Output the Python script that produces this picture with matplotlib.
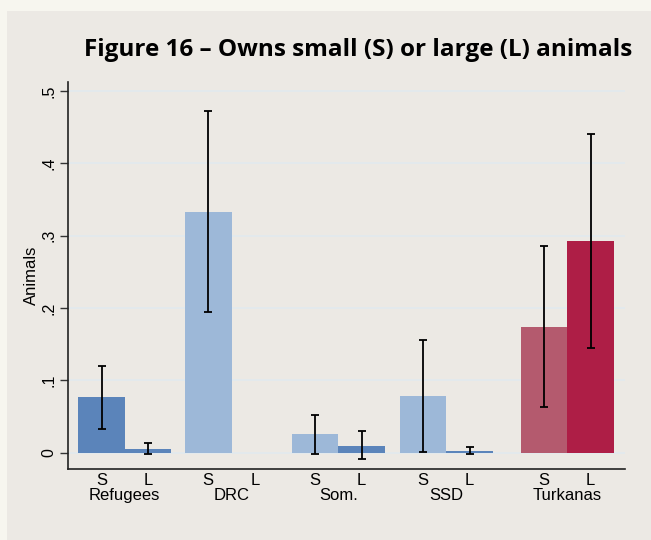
import numpy as np
import matplotlib
matplotlib.use("Agg")
import matplotlib.pyplot as plt
from matplotlib.patches import Rectangle

# Datos
grupos = ['Refugees', 'DRC', 'Som.', 'SSD', 'Turkanas']
etiquetas = ['S', 'L']
media_s = [0.077, 0.333, 0.026, 0.079, 0.174]
media_l = [0.005, 0.0, 0.009, 0.0023, 0.293]
ic_s_bajo = [0.033, 0.194, -0.002, 0.001, 0.063]
ic_s_alto = [0.120, 0.473, 0.052, 0.156, 0.286]
ic_l_bajo = [-0.002, np.nan, -0.009, -0.002, 0.145]
ic_l_alto = [0.0134, np.nan, 0.030, 0.008, 0.441]

# Colores por barra
azul_osc = '#5B84BA'
azul_cla = '#9DB8D8'
colores_s = [azul_osc, azul_cla, azul_cla, azul_cla, '#B45A6E']
colores_l = [azul_osc, azul_cla, azul_osc, azul_osc, '#AE1E46']

fondo = '#ECE9E4'
fig = plt.figure(figsize=(6.51, 5.4), dpi=100)
fig.patch.set_facecolor('#F7F6EF')
fig.patches.append(Rectangle((7 / 651, 0), 1, 1 - 11 / 540, transform=fig.transFigure,
                             facecolor=fondo, edgecolor='none', zorder=-5))

ax = fig.add_axes([0.104, 0.1315, 0.856, 0.7172])
ax.set_zorder(2)
ax.set_facecolor(fondo)

# posiciones de los grupos (inicio de la barra S)
inicio = np.array([0.228, 2.523, 4.824, 7.146, 9.748])
pos_s = inicio + 0.5
pos_l = inicio + 1.5

ax.bar(pos_s, media_s, width=1.0, color=colores_s, zorder=2)
ax.bar(pos_l, media_l, width=1.0, color=colores_l, zorder=2)

s_bajo = np.array(ic_s_bajo); s_alto = np.array(ic_s_alto)
l_bajo = np.array(ic_l_bajo); l_alto = np.array(ic_l_alto)
ax.errorbar(pos_s, (s_bajo + s_alto) / 2, yerr=(s_alto - s_bajo) / 2, fmt='none',
            ecolor='black', elinewidth=1.3, capsize=3.2, capthick=1.3, zorder=3)
ok = ~np.isnan(l_bajo)
ax.errorbar(pos_l[ok], ((l_bajo + l_alto) / 2)[ok], yerr=((l_alto - l_bajo) / 2)[ok], fmt='none',
            ecolor='black', elinewidth=1.3, capsize=3.2, capthick=1.3, zorder=3)

ax.set_xlim(0, 11.985)
ax.set_ylim(-0.0225, 0.5129)

# Ejes
ticks_y = [0, 0.1, 0.2, 0.3, 0.4, 0.5]
ax.set_yticks(ticks_y)
ax.set_yticklabels(['0', '.1', '.2', '.3', '.4', '.5'], rotation=90, va='center',
                   fontsize=11.5, family='Liberation Sans')
ax.tick_params(axis='y', length=6, width=1, color='#333333', pad=2)
ax.grid(axis='y', color='#E2EAEE', linewidth=1.2, zorder=1)
ax.set_axisbelow(True)

ax.set_xticks(np.concatenate([pos_s, pos_l]))
ax.set_xticklabels(['S'] * 5 + ['L'] * 5, fontsize=12, family='Liberation Sans')
ax.tick_params(axis='x', length=0, pad=3)
for xc, nombre in zip(inicio + 1.0, grupos):
    ax.text(xc, -0.0585, nombre, ha='center', va='center', fontsize=12,
            family='Liberation Sans')

ax.set_ylabel('Animals', fontsize=12, family='Liberation Sans')
ax.yaxis.set_label_coords(-0.052, 0.5)

for lado in ['top', 'right']:
    ax.spines[lado].set_visible(False)
for lado in ['left', 'bottom']:
    ax.spines[lado].set_color('#222222')
    ax.spines[lado].set_linewidth(1.2)

# Titulo
fig.text(358 / 651, 1 - 50 / 540, 'Figure 16 – Owns small (S) or large (L) animals',
         ha='center', va='center', fontsize=17.5, fontweight='bold', family='Open Sans')

fig.savefig('out.png', dpi=100, facecolor=fig.get_facecolor())
